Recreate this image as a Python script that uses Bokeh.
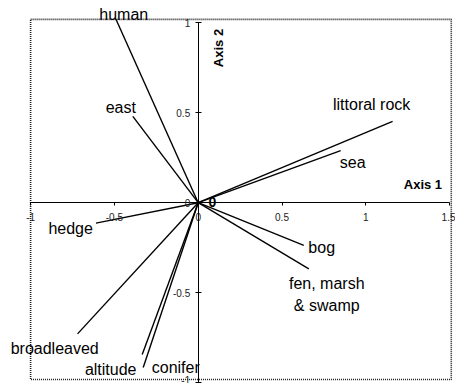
from bokeh.plotting import figure
from bokeh.models import Range1d, LinearAxis, FixedTicker, NumeralTickFormatter
from bokeh.core.properties import value
from bokeh.embed import file_html
from bokeh.resources import INLINE

# ---- data ----
names = ["human", "east", "littoral rock", "sea", "hedge", "broadleaved",
         "altitude", "conifer", "bog", "fen, marsh & swamp"]
axis1 = [-0.49, -0.39, 1.16, 0.85, -0.61, -0.72, -0.334, -0.328, 0.63, 0.66]
axis2 = [1.019, 0.48, 0.453, 0.29, -0.114, -0.73, -0.845, -0.917, -0.238, -0.368]

label_text = ["human", "east", "littoral rock", "sea", "hedge", "broadleaved",
              "altitude", "conifer", "bog", "fen, marsh\n& swamp"]
label_x = [-0.444, -0.462, 1.035, 0.922, -0.761, -0.856, -0.522, -0.134, 0.737, 0.767]
label_y = [1.047, 0.530, 0.546, 0.224, -0.144, -0.811, -0.928, -0.917, -0.249, -0.511]

x_ticks = [-1, -0.5, 0, 0.5, 1, 1.5]
y_ticks = [-1, -0.5, 0, 0.5, 1]
box_x = [-1, 1.51]
box_y = [-0.984, 1.02]

FONT = "Liberation Sans"

p = figure(width=455, height=383, output_backend="svg", toolbar_location=None,
           x_axis_type=None, y_axis_type=None,
           x_range=Range1d(-1.1796, 1.5352), y_range=Range1d(-1.0061, 1.1252),
           min_border=0, outline_line_color=None, background_fill_color="white")

# dotted frame box
p.quad(left=box_x[0], right=box_x[1], bottom=box_y[0], top=box_y[1],
       fill_color=None, line_color="#1a1a1a", line_width=1.6, line_dash="1 1")

# axes through origin
xa = LinearAxis(fixed_location=0, bounds=(x_ticks[0], x_ticks[-1]),
                ticker=FixedTicker(ticks=x_ticks),
                formatter=NumeralTickFormatter(format="0.[0]"))
xa.major_tick_in = 0
xa.major_tick_out = 3
xa.minor_tick_line_color = None
xa.major_label_standoff = 7
xa.major_label_text_font = FONT
xa.major_label_text_font_size = "10px"
xa.major_label_text_color = "#222222"
xa.axis_line_color = "black"
p.add_layout(xa, "below")

ya = LinearAxis(fixed_location=0, bounds=(y_ticks[0], y_ticks[-1]),
                ticker=FixedTicker(ticks=y_ticks),
                formatter=NumeralTickFormatter(format="0.[0]"))
ya.major_tick_in = 3
ya.major_tick_out = 3
ya.minor_tick_line_color = None
ya.major_label_standoff = 5
ya.major_label_orientation = "horizontal"
ya.major_label_text_font = FONT
ya.major_label_text_font_size = "10px"
ya.major_label_text_color = "#222222"
ya.axis_line_color = "black"
p.add_layout(ya, "left")

# vectors
p.segment(x0=[0] * len(axis1), y0=[0] * len(axis2), x1=axis1, y1=axis2,
          line_color="black", line_width=1.4)

# vector labels
p.text(x=label_x, y=label_y, text=label_text, text_align="center",
       text_baseline="middle", text_font=value(FONT), text_font_size="16px",
       text_color="black", text_line_height=1.25)

# origin mark and axis titles
p.text(x=[0.084], y=[0.004], text=["0"], text_align="center", text_baseline="middle",
       text_font=value(FONT), text_font_size="14px", text_font_style="bold",
       text_color="black")
p.text(x=[1.341], y=[0.101], text=["Axis 1"], text_align="center",
       text_baseline="middle", text_font=value(FONT), text_font_size="13px",
       text_font_style="bold", text_color="black")
p.text(x=[0.122], y=[0.861], text=["Axis 2"], angle=1.5708, text_align="center",
       text_baseline="middle", text_font=value(FONT), text_font_size="13px",
       text_font_style="bold", text_color="black")

open("out.html", "w").write(file_html(p, INLINE))
